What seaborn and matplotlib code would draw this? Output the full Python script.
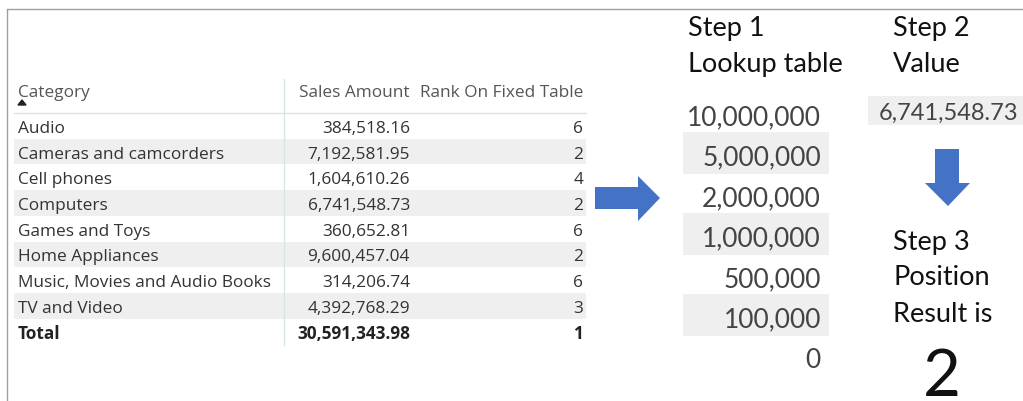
import matplotlib
matplotlib.use("Agg")
import matplotlib.pyplot as plt
import matplotlib.patches as mpatches
import seaborn as sns

# --- data ---
categories = ["Audio", "Cameras and camcorders", "Cell phones", "Computers",
              "Games and Toys", "Home Appliances", "Music, Movies and Audio Books",
              "TV and Video"]
sales = [384518.16, 7192581.95, 1604610.26, 6741548.73, 360652.81,
         9600457.04, 314206.74, 4392768.29]
ranks = [6, 2, 4, 2, 6, 2, 6, 3]
total_sales = 30591343.98
total_rank = 1
lookup = [10000000, 5000000, 2000000, 1000000, 500000, 100000, 0]
value = 6741548.73
result = 2

sns.set_theme(style="white")
plt.rcParams["font.family"] = ["Open Sans", "DejaVu Sans"]

fig = plt.figure(figsize=(10.23, 4.02), dpi=100)
ax = fig.add_axes([0, 0, 1, 1])
ax.set_xlim(0, 1023)
ax.set_ylim(402, 0)
ax.axis("off")

band = "#efefef"
txt = "#333333"
fs = 12.4

# frame of the table visual
ax.plot([7, 1023], [10, 10], color="#a0a0a0", lw=1)
ax.plot([7, 7], [10, 402], color="#a0a0a0", lw=1)

# header
hdr = dict(fontsize=fs, color="#555555", va="baseline")
ax.text(18, 97, "Category", ha="left", **hdr)
ax.text(410, 97, "Sales Amount", ha="right", **hdr)
ax.text(583, 97, "Rank On Fixed Table", ha="right", **hdr)
ax.add_patch(mpatches.Polygon([[18, 106], [26, 106], [22, 101]], closed=True,
                              color="#222222"))
ax.plot([14, 586], [113.5, 113.5], color="#d6e6e4", lw=1)
ax.plot([284, 284], [80, 346], color="#d6e6e4", lw=1)

# body rows
row_h = 25.7
top0 = 114
for i, (cat, s, r) in enumerate(zip(categories, sales, ranks)):
    top = top0 + i * row_h
    if i % 2 == 1:
        ax.add_patch(mpatches.Rectangle((14, top), 572, row_h, color=band, lw=0))
    base = top + 19
    ax.text(18, base, cat, ha="left", va="baseline", fontsize=fs, color=txt)
    ax.text(410, base, f"{s:,.2f}", ha="right", va="baseline", fontsize=fs, color=txt)
    ax.text(583, base, f"{r}", ha="right", va="baseline", fontsize=fs, color=txt)

base = top0 + len(categories) * row_h + 19
ax.text(18, base, "Total", ha="left", va="baseline", fontsize=fs,
        color="#222222", fontweight="bold")
ax.text(410, base, f"{total_sales:,.2f}", ha="right", va="baseline", fontsize=fs,
        color="#222222", fontweight="bold")
ax.text(583, base, f"{total_rank}", ha="right", va="baseline", fontsize=fs,
        color="#222222", fontweight="bold")

# right arrow
blue = "#4472c4"
ax.add_patch(mpatches.Polygon([[595, 188], [638, 188], [638, 177], [660, 199],
                               [638, 222], [638, 210], [595, 210]],
                              closed=True, color=blue, lw=0))

# step 1: lookup table
lato = ["Lato", "DejaVu Sans"]
big = dict(fontsize=19.5, color="#111111", va="baseline", family=lato)
ax.text(688, 36, "Step 1", ha="left", **big)
ax.text(688, 72, "Lookup table", ha="left", **big)
lk_base0 = 125
lk_step = 40.5
for i, v in enumerate(lookup):
    b = lk_base0 + i * lk_step
    if i % 2 == 1:
        ax.add_patch(mpatches.Rectangle((683, b - 33), 146, 42, color=band, lw=0))
    ax.text(821, b, f"{v:,}", ha="right", va="baseline", fontsize=19,
            color="#444444", family=lato)

# step 2: value
ax.text(893, 36, "Step 2", ha="left", **big)
ax.text(893, 72, "Value", ha="left", **big)
ax.add_patch(mpatches.Rectangle((868, 97), 155, 29, color=band, lw=0))
ax.text(1018, 120, f"{value:,.2f}", ha="right", va="baseline", fontsize=17,
        color="#444444", family=lato)

# down arrow
ax.add_patch(mpatches.Polygon([[935, 150], [959, 150], [959, 184], [970, 184],
                               [948, 207], [925, 184], [935, 184]],
                              closed=True, color=blue, lw=0))

# step 3: position
ax.text(893, 250, "Step 3", ha="left", **big)
ax.text(893, 285, "Position", ha="left", **big)
ax.text(893, 322, "Result is", ha="left", **big)
ax.text(942, 396, f"{result}", ha="center", va="baseline", fontsize=47,
        color="#111111", family=lato)

fig.savefig("out.png", dpi=100)
